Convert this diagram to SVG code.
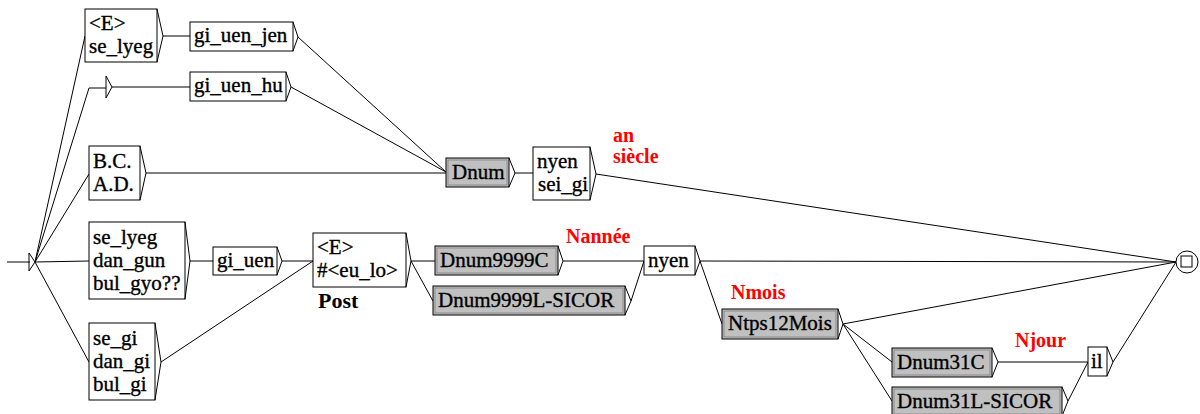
<svg xmlns="http://www.w3.org/2000/svg" width="1200" height="414" viewBox="0 0 1200 414">
<style>
  .bg { fill: #ffffff; }
  .box { fill: #ffffff; stroke: #000000; stroke-width: 1; }
  .gbox { fill: #c0c0c0; stroke: #000000; stroke-width: 1; }
  .gin { fill: none; stroke: #8a8a8a; stroke-width: 1; }
  .chev { fill: none; stroke: #000000; stroke-width: 1; }
  .ln { fill: none; stroke: #000000; stroke-width: 1; }
  .t { font-family: "Liberation Serif", "Times New Roman", serif; font-size: 21px; fill: #000000; stroke: #000000; stroke-width: 0.35; }
  .red { font-family: "Liberation Serif", "Times New Roman", serif; font-size: 20px; font-weight: bold; fill: #ff0000; }
  .post { font-family: "Liberation Serif", "Times New Roman", serif; font-size: 22px; font-weight: bold; fill: #000000; }
</style>
<rect class="bg" x="0" y="0" width="1200" height="414"/>

<g id="connectors">
  <line class="ln" x1="7" y1="262" x2="30" y2="262"/>
  <line class="ln" x1="35" y1="262" x2="85" y2="36"/>
  <polyline class="ln" points="35,262 89,88 106,88"/>
  <line class="ln" x1="35" y1="262" x2="89" y2="174"/>
  <line class="ln" x1="35" y1="262" x2="89" y2="261"/>
  <line class="ln" x1="35" y1="262" x2="89" y2="362"/>
  <line class="ln" x1="163" y1="36" x2="190" y2="36"/>
  <line class="ln" x1="112" y1="87" x2="190" y2="87"/>
  <line class="ln" x1="298" y1="37" x2="446" y2="172"/>
  <line class="ln" x1="291" y1="87" x2="446" y2="172"/>
  <line class="ln" x1="146" y1="173" x2="446" y2="173"/>
  <line class="ln" x1="515" y1="173" x2="533" y2="173"/>
  <line class="ln" x1="596" y1="174" x2="1176" y2="262"/>
  <line class="ln" x1="190" y1="261" x2="213" y2="261"/>
  <line class="ln" x1="282" y1="261" x2="313" y2="261"/>
  <line class="ln" x1="161" y1="362" x2="313" y2="261"/>
  <line class="ln" x1="411" y1="261" x2="435" y2="261"/>
  <line class="ln" x1="411" y1="261" x2="433" y2="301"/>
  <line class="ln" x1="563" y1="261" x2="644" y2="261"/>
  <line class="ln" x1="631" y1="301" x2="644" y2="261"/>
  <line class="ln" x1="700" y1="261" x2="1176" y2="262"/>
  <line class="ln" x1="700" y1="261" x2="722" y2="324"/>
  <line class="ln" x1="843" y1="324" x2="1176" y2="262"/>
  <line class="ln" x1="843" y1="324" x2="892" y2="362"/>
  <line class="ln" x1="843" y1="324" x2="892" y2="401"/>
  <line class="ln" x1="998" y1="362" x2="1088" y2="362"/>
  <line class="ln" x1="1068" y1="401" x2="1088" y2="362"/>
  <line class="ln" x1="1113" y1="362" x2="1176" y2="262"/>
</g>

<g id="initial">
  <polygon class="chev" points="29,253 35,262 29,271"/>
</g>

<g id="n_e_selyeg">
  <rect class="box" x="85" y="9" width="72" height="53"/>
  <polyline class="chev" points="157,9 163,36 157,62"/>
  <text class="t" x="89" y="30">&lt;E&gt;</text>
  <text class="t" x="89" y="53">se_lyeg</text>
</g>

<g id="n_gi_uen_jen">
  <rect class="box" x="190" y="22" width="103" height="29"/>
  <polyline class="chev" points="293,22 298,37 293,51"/>
  <text class="t" x="194" y="42">gi_uen_jen</text>
</g>

<g id="n_empty">
  <polygon class="chev" points="106,76 112,87 106,98"/>
</g>

<g id="n_gi_uen_hu">
  <rect class="box" x="190" y="72" width="96" height="29"/>
  <polyline class="chev" points="286,72 291,87 286,101"/>
  <text class="t" x="194" y="92">gi_uen_hu</text>
</g>

<g id="n_bc_ad">
  <rect class="box" x="89" y="146" width="51" height="54"/>
  <polyline class="chev" points="140,146 146,173 140,200"/>
  <text class="t" x="93" y="168">B.C.</text>
  <text class="t" x="93" y="191">A.D.</text>
</g>

<g id="n_dnum">
  <rect class="gbox" x="446" y="158" width="63" height="29"/>
  <rect class="gin" x="448" y="160" width="59" height="25"/>
  <polyline class="chev" points="509,158 515,173 509,187"/>
  <text class="t" x="452" y="179">Dnum</text>
</g>

<g id="n_nyen_seigi">
  <rect class="box" x="533" y="147" width="57" height="53"/>
  <polyline class="chev" points="590,147 596,174 590,200"/>
  <text class="t" x="537" y="168">nyen</text>
  <text class="t" x="538" y="191">sei_gi</text>
</g>

<g id="n_se_lyeg3">
  <rect class="box" x="89" y="222" width="96" height="77"/>
  <polyline class="chev" points="185,222 190,261 185,299"/>
  <text class="t" x="93" y="244">se_lyeg</text>
  <text class="t" x="93" y="267">dan_gun</text>
  <text class="t" x="93" y="290">bul_gyo??</text>
</g>

<g id="n_gi_uen">
  <rect class="box" x="213" y="247" width="64" height="28"/>
  <polyline class="chev" points="277,247 282,261 277,275"/>
  <text class="t" x="217" y="267">gi_uen</text>
</g>

<g id="n_se_gi3">
  <rect class="box" x="89" y="323" width="66" height="77"/>
  <polyline class="chev" points="155,323 161,362 155,400"/>
  <text class="t" x="93" y="345">se_gi</text>
  <text class="t" x="93" y="368">dan_gi</text>
  <text class="t" x="93" y="391">bul_gi</text>
</g>

<g id="n_e_eulo">
  <rect class="box" x="313" y="233" width="93" height="54"/>
  <polyline class="chev" points="406,233 411,261 406,287"/>
  <text class="t" x="317" y="254">&lt;E&gt;</text>
  <text class="t" x="317" y="277">#&lt;eu_lo&gt;</text>
  <text class="post" x="318" y="308">Post</text>
</g>

<g id="n_dnum9999c">
  <rect class="gbox" x="435" y="246" width="123" height="29"/>
  <rect class="gin" x="437" y="248" width="119" height="25"/>
  <polyline class="chev" points="558,246 563,261 558,275"/>
  <text class="t" x="440" y="267">Dnum9999C</text>
</g>

<g id="n_dnum9999l">
  <rect class="gbox" x="433" y="286" width="192" height="29"/>
  <rect class="gin" x="435" y="288" width="188" height="25"/>
  <polyline class="chev" points="625,286 631,301 625,315"/>
  <text class="t" x="438" y="307">Dnum9999L-SICOR</text>
</g>

<g id="n_nyen">
  <rect class="box" x="644" y="246" width="51" height="29"/>
  <polyline class="chev" points="695,246 700,261 695,275"/>
  <text class="t" x="648" y="267">nyen</text>
</g>

<g id="n_ntps12mois">
  <rect class="gbox" x="722" y="309" width="116" height="30"/>
  <rect class="gin" x="724" y="311" width="112" height="26"/>
  <polyline class="chev" points="838,309 843,324 838,339"/>
  <text class="t" x="728" y="330">Ntps12Mois</text>
</g>

<g id="n_dnum31c">
  <rect class="gbox" x="892" y="348" width="100" height="29"/>
  <rect class="gin" x="894" y="350" width="96" height="25"/>
  <polyline class="chev" points="992,348 998,362 992,377"/>
  <text class="t" x="897" y="369">Dnum31C</text>
</g>

<g id="n_dnum31l">
  <rect class="gbox" x="892" y="387" width="170" height="29"/>
  <rect class="gin" x="894" y="389" width="166" height="25"/>
  <polyline class="chev" points="1062,387 1068,401 1062,416"/>
  <text class="t" x="897" y="408">Dnum31L-SICOR</text>
</g>

<g id="n_il">
  <rect class="box" x="1088" y="347" width="19" height="29"/>
  <polyline class="chev" points="1107,347 1113,362 1107,376"/>
  <text class="t" x="1091" y="368">il</text>
</g>

<g id="final">
  <circle class="box" cx="1187" cy="262" r="11"/>
  <rect class="chev" x="1181" y="256" width="11" height="11"/>
</g>

<g id="outputs">
  <text class="red" x="613" y="142">an</text>
  <text class="red" x="613" y="163">siècle</text>
  <text class="red" x="566" y="243">Nannée</text>
  <text class="red" x="731" y="299">Nmois</text>
  <text class="red" x="1015" y="347">Njour</text>
</g>
</svg>
